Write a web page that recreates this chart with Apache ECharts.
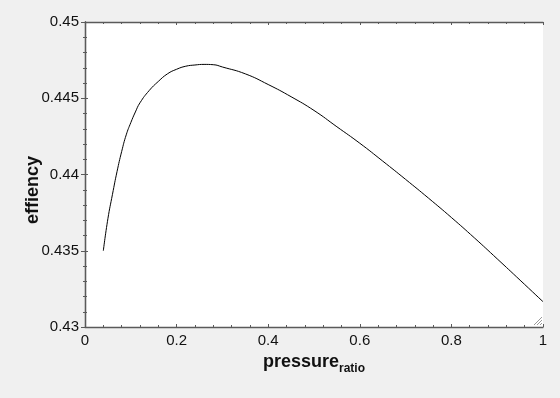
<!DOCTYPE html>
<html>

<head>
    <meta charset="utf-8">
    <title>effiency vs pressure ratio</title>
    <script src="https://cdn.jsdelivr.net/npm/echarts@6/dist/echarts.min.js"></script>
    <style>
        body { margin: 0; background: #f0f0f0; }
    </style>
</head>

<body>
    <div id="main" style="width: 560px;height:398px;"></div>
    <script type="text/javascript">

        // pressure ratio (x) and efficiency (y)
        var pressureRatio = [0.04, 0.05, 0.06, 0.07, 0.08, 0.09, 0.10, 0.11, 0.12, 0.14, 0.16, 0.18,
            0.20, 0.22, 0.24, 0.26, 0.28, 0.30, 0.35, 0.40, 0.45, 0.50, 0.55, 0.60, 0.65,
            0.70, 0.75, 0.80, 0.85, 0.90, 0.95, 1.00];
        var efficiency = [0.4350, 0.4371, 0.4387, 0.4402, 0.4415, 0.4426, 0.4434, 0.4441, 0.4447, 0.4455, 0.4461, 0.4466,
            0.4469, 0.4471, 0.44718, 0.44722, 0.4472, 0.44705, 0.4466, 0.4459, 0.4451, 0.4442, 0.44313, 0.44205, 0.44088,
            0.43968, 0.43845, 0.43718, 0.43585, 0.43447, 0.43307, 0.43166];
        var xTicks = [0, 0.2, 0.4, 0.6, 0.8, 1];
        var yTicks = [0.43, 0.435, 0.44, 0.445, 0.45];

        var lineData = [];
        for (var i = 0; i < pressureRatio.length; i++) {
            lineData.push([pressureRatio[i], efficiency[i]]);
        }

        var axisColor = '#5a5a5a';
        var xMin = xTicks[0], xMax = xTicks[xTicks.length - 1];
        var yMin = yTicks[0], yMax = yTicks[yTicks.length - 1];
        var myChart = echarts.init(document.getElementById('main'));

        // shared style for the box axes (ticks inside on all four sides)
        function boxAxis(extra) {
            var base = {
                type: 'value',
                axisLine: { show: true, lineStyle: { color: axisColor, width: 1.3 } },
                axisTick: { show: true, inside: true, length: 3, lineStyle: { color: axisColor } },
                minorTick: { show: true, splitNumber: 5, length: 2, lineStyle: { color: axisColor } },
                splitLine: { show: false },
                axisLabel: { show: false }
            };
            return Object.assign(base, extra);
        }

        var option = {
            backgroundColor: '#f0f0f0',
            animation: false,
            grid: {
                left: 85, top: 22, right: 17, bottom: 71,
                show: true, backgroundColor: '#ffffff', borderWidth: 0
            },
            xAxis: [
                boxAxis({
                    min: xMin, max: xMax, interval: 0.2,
                    position: 'bottom',
                    axisLabel: {
                        show: true, margin: 6, color: '#111',
                        fontFamily: 'Liberation Sans', fontSize: 15
                    },
                    name: '{b|pressure}{s|ratio}',
                    nameLocation: 'middle',
                    nameGap: 19,
                    nameTextStyle: {
                        rich: {
                            b: { fontFamily: 'Liberation Sans', fontWeight: 'bold', fontSize: 18, color: '#111', verticalAlign: 'bottom' },
                            s: { fontFamily: 'Liberation Sans', fontWeight: 'bold', fontSize: 12, color: '#111', verticalAlign: 'bottom', padding: [0, 0, -4, 0] }
                        }
                    }
                }),
                boxAxis({ min: xMin, max: xMax, interval: 0.2, position: 'top' })
            ],
            yAxis: [
                boxAxis({
                    min: yMin, max: yMax, interval: 0.005,
                    position: 'left',
                    axisLabel: {
                        show: true, margin: 6, color: '#111',
                        fontFamily: 'Liberation Sans', fontSize: 15
                    }
                }),
                boxAxis({ min: yMin, max: yMax, interval: 0.005, position: 'right' }),
                // outer half of the left major ticks (they cross the axis line)
                {
                    type: 'value', min: yMin, max: yMax, interval: 0.005, position: 'left',
                    axisLine: { show: false },
                    axisTick: { show: true, inside: false, length: 4, lineStyle: { color: axisColor } },
                    axisLabel: { show: false },
                    splitLine: { show: false }
                }
            ],
            graphic: [
                {
                    type: 'text', x: 33, y: 190, rotation: Math.PI / 2,
                    style: {
                        text: 'effiency', fill: '#111', align: 'center', verticalAlign: 'middle',
                        font: 'bold 18px "Liberation Sans"'
                    }
                },
                // resize grip in the bottom right corner
                { type: 'line', shape: { x1: 534, y1: 325, x2: 542, y2: 317 }, style: { stroke: '#999', lineWidth: 1 } },
                { type: 'line', shape: { x1: 537, y1: 325, x2: 542, y2: 320 }, style: { stroke: '#999', lineWidth: 1 } },
                { type: 'line', shape: { x1: 540, y1: 325, x2: 542, y2: 323 }, style: { stroke: '#999', lineWidth: 1 } }
            ],
            series: [{
                type: 'line',
                xAxisIndex: 0,
                yAxisIndex: 0,
                data: lineData,
                showSymbol: false,
                smooth: 0.5,
                lineStyle: { color: '#000', width: 1 }
            }]
        };
        myChart.setOption(option);
    </script>
</body>

</html>
